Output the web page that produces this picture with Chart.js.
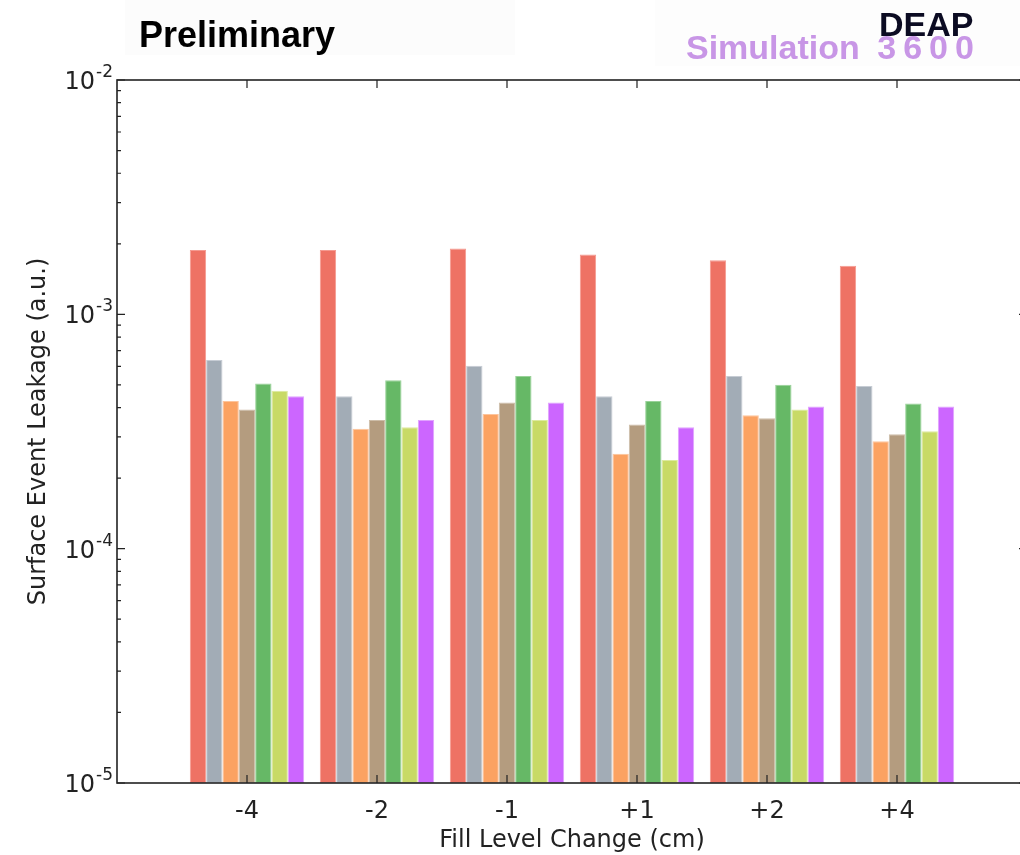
<!DOCTYPE html>
<html>
<head>
<meta charset="utf-8">
<script src="https://cdn.jsdelivr.net/npm/chart.js@4/dist/chart.umd.min.js"></script>
<style>
  html, body { margin: 0; padding: 0; background: #fff; overflow: hidden; }
  #wrap { position: relative; width: 1020px; height: 855px; overflow: hidden; }
  #chart { position: absolute; left: 0; top: 0; }
  .tag { position: absolute; font-family: "Liberation Sans", Arial, sans-serif; font-weight: bold; white-space: nowrap; }
</style>
</head>
<body>
<div id="wrap">
  <!-- canvas a little wider than the window: the right spine falls just outside, as in the picture -->
  <canvas id="chart" width="1030" height="855"></canvas>
  <div class="tag" style="left:125px;top:0;width:390px;height:55px;background:#fcfcfc;"></div>
  <div class="tag" style="left:139px;top:14px;font-size:36px;color:#000;">Preliminary</div>
  <div class="tag" style="left:655px;top:0;width:365px;height:66px;background:#fdfdfd;"></div>
  <div class="tag" style="left:879px;top:5px;font-size:34px;color:#0b0b22;">DEAP</div>
  <div class="tag" style="left:686px;top:28px;font-size:34px;color:#c896e6;">Simulation <span style="letter-spacing:7px;margin-left:8px;">3600</span></div>
</div>
<script>
// x categories (fill level change, cm)
const categories = ['-4', '-2', '-1', '+1', '+2', '+4'];

// surface event leakage per category, one array per bar colour
const redVals    = [1.88e-3, 1.88e-3, 1.91e-3, 1.80e-3, 1.70e-3, 1.61e-3];
const greyVals   = [6.38e-4, 4.47e-4, 6.04e-4, 4.47e-4, 5.45e-4, 4.94e-4];
const orangeVals = [4.27e-4, 3.25e-4, 3.76e-4, 2.54e-4, 3.71e-4, 2.87e-4];
const tanVals    = [3.93e-4, 3.54e-4, 4.21e-4, 3.39e-4, 3.60e-4, 3.08e-4];
const greenVals  = [5.07e-4, 5.23e-4, 5.45e-4, 4.27e-4, 5.01e-4, 4.16e-4];
const limeVals   = [4.72e-4, 3.30e-4, 3.54e-4, 2.39e-4, 3.93e-4, 3.17e-4];
const purpleVals = [4.47e-4, 3.54e-4, 4.21e-4, 3.30e-4, 4.04e-4, 4.04e-4];

const seriesList = [redVals, greyVals, orangeVals, tanVals, greenVals, limeVals, purpleVals];
const fillColors = ['#ee7264', '#a2acb6', '#fba262', '#b49c7f', '#66b866', '#c8da66', '#cc66ff'];
const edgeColors = ['#f59a90', '#c6ccd4', '#fdc49c', '#cdbda8', '#98d298', '#dde9a0', '#e0a3ff'];

// decade ticks on the log axis
const yMajor = [1e-5, 1e-4, 1e-3, 1e-2];

const AXIS = '#222';
const FONT = "'DejaVu Sans', sans-serif";

// frame, inward ticks and 10^n labels like matplotlib
const framePlugin = {
  id: 'frame',
  afterDatasetsDraw(chart) {
    const { ctx, chartArea: a, scales: { x, y } } = chart;
    ctx.save();
    ctx.strokeStyle = AXIS;
    ctx.lineWidth = 1.6;
    ctx.strokeRect(a.left, a.top, a.right - a.left, a.bottom - a.top);
    ctx.lineWidth = 1.2;
    ctx.beginPath();
    yMajor.forEach((d, k) => {
      const py = y.getPixelForValue(d);
      ctx.moveTo(a.left, py); ctx.lineTo(a.left + 8, py);
      ctx.moveTo(a.right, py); ctx.lineTo(a.right - 8, py);
      if (k < yMajor.length - 1) {
        for (let m = 2; m <= 9; m++) {
          const pm = y.getPixelForValue(d * m);
          ctx.moveTo(a.left, pm); ctx.lineTo(a.left + 4, pm);
          ctx.moveTo(a.right, pm); ctx.lineTo(a.right - 4, pm);
        }
      }
    });
    categories.forEach((c, i) => {
      const px = x.getPixelForValue(i);
      ctx.moveTo(px, a.bottom); ctx.lineTo(px, a.bottom - 8);
      ctx.moveTo(px, a.top); ctx.lineTo(px, a.top + 8);
    });
    ctx.stroke();

    // y labels: "10" with a raised exponent
    ctx.fillStyle = AXIS;
    ctx.textBaseline = 'alphabetic';
    ctx.textAlign = 'left';
    yMajor.forEach(d => {
      const py = y.getPixelForValue(d);
      const e = String(Math.round(Math.log10(d)));
      ctx.font = '17px ' + FONT;
      const ew = ctx.measureText(e).width;
      const ex = a.left - 4 - ew;
      ctx.fillText(e, ex, py - 3);
      ctx.font = '24px ' + FONT;
      const bw = ctx.measureText('10').width;
      ctx.fillText('10', ex - bw - 1, py + 9);
    });
    ctx.restore();
  }
};

new Chart(document.getElementById('chart'), {
  type: 'bar',
  data: {
    datasets: seriesList.map((vals, k) => ({
      label: 'series ' + (k + 1),
      data: vals.map((v, i) => ({ x: i, y: v })),
      backgroundColor: fillColors[k],
      borderColor: edgeColors[k],
      borderWidth: 1,
      borderSkipped: false,
      barPercentage: 1.0,
      categoryPercentage: 0.88
    }))
  },
  options: {
    responsive: false,
    animation: false,
    devicePixelRatio: 1,
    layout: { padding: { left: 0, top: 80, right: 3, bottom: 0 } },
    plugins: { legend: { display: false }, tooltip: { enabled: false } },
    scales: {
      x: {
        type: 'linear',
        offset: false,
        min: -1,
        max: 6,
        grid: { display: false, drawTicks: false },
        border: { display: false },
        ticks: {
          stepSize: 1,
          autoSkip: false,
          maxRotation: 0,
          padding: 14,
          color: AXIS,
          font: { family: FONT, size: 24 },
          callback: v => categories[v] !== undefined ? categories[v] : ''
        },
        title: {
          display: true,
          text: 'Fill Level Change (cm)',
          color: AXIS,
          font: { family: FONT, size: 24 },
          padding: { top: 0, bottom: 0 }
        },
        afterFit(s) {
          s.height = 72;
          // tick padding would otherwise shrink the plot on the right
          s.paddingLeft = 0;
          s.paddingRight = 0;
        }
      },
      y: {
        type: 'logarithmic',
        min: 1e-5,
        max: 1e-2,
        grid: { display: false, drawTicks: false },
        border: { display: false },
        ticks: { display: false },
        title: {
          display: true,
          text: 'Surface Event Leakage (a.u.)',
          color: AXIS,
          font: { family: FONT, size: 24 },
          padding: { top: 24, bottom: 0 }
        },
        afterFit(s) { s.width = 117; }
      }
    }
  },
  plugins: [framePlugin]
});
</script>
</body>
</html>
